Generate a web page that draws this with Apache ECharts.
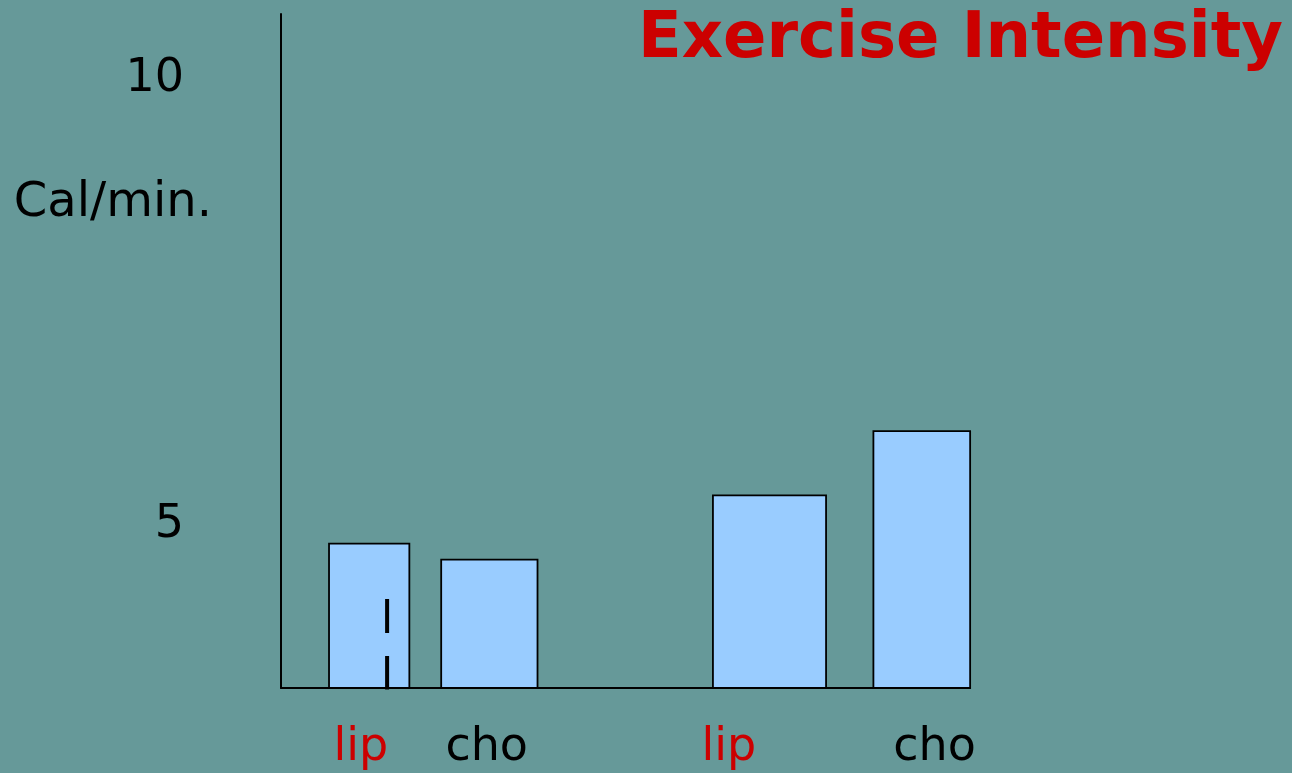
<!DOCTYPE html>
<html>
<head>
<meta charset="utf-8">
<script src="https://cdn.jsdelivr.net/npm/echarts@6/dist/echarts.min.js"></script>
<style>
  html, body { margin: 0; padding: 0; background: #669999; }
  #chart { width: 1292px; height: 773px; }
</style>
</head>
<body>
<div id="chart"></div>
<script>
// ---- data ----
const titleText = 'Exercise Intensity';
const yAxisName = 'Cal/min.';
const categories = ['lip', 'cho', '', 'lip', 'cho'];
const calPerMin = [4.73, 4.55, null, 5.27, 5.99];
const yTickValues = [5, 10];
const markerCategory = 0;
const markerValue = 4.11;

// ---- layout / style (not data) ----
const yMin = 3.111, yMax = 10.667;
const barLayout = [
  { offset: 0.140, width: 0.583 },
  { offset: 0.012, width: 0.699 },
  null,
  { offset: 0.045, width: 0.821 },
  { offset: 0.150, width: 0.702 }
];
const markerOffset = 0.27;
const labelColors = ['#CC0000', '#000000', '#000000', '#CC0000', '#000000'];
const labelShift = [[0, 0, 0, 22], [0, 2, 0, 0], [0, 0, 0, 0], [0, 69, 0, 0], [0, 0, 0, 67]];
const FONT = 'DejaVu Sans';

const barData = [];
calPerMin.forEach((v, i) => { if (v != null) barData.push([i, v]); });

const rich = {};
categories.forEach((c, i) => {
  rich['c' + i] = { color: labelColors[i], fontSize: 46, fontFamily: FONT, padding: labelShift[i] };
});

const chart = echarts.init(document.getElementById('chart'), null, { renderer: 'canvas' });
chart.setOption({
  backgroundColor: '#669999',
  animation: false,
  title: {
    text: titleText,
    right: 4,
    top: 3,
    textStyle: { color: '#CC0000', fontSize: 64, fontWeight: 'bold', fontFamily: FONT }
  },
  grid: { left: 281, right: 322, top: 14, bottom: 85, containLabel: false },
  xAxis: {
    type: 'category',
    data: categories,
    boundaryGap: true,
    axisLine: { show: true, lineStyle: { color: '#000', width: 2 } },
    axisTick: { show: false },
    splitLine: { show: false },
    axisLabel: {
      interval: 0,
      margin: 37,
      fontSize: 46,
      fontFamily: FONT,
      formatter: (value, index) => value ? '{c' + index + '|' + value + '}' : '',
      rich: rich
    }
  },
  yAxis: {
    type: 'value',
    min: yMin,
    max: yMax,
    name: yAxisName,
    nameLocation: 'end',
    nameGap: -190,
    nameTextStyle: { color: '#000', fontSize: 48, fontFamily: FONT, align: 'right', verticalAlign: 'middle', padding: [0, 69, 0, 0] },
    axisLine: { show: true, lineStyle: { color: '#000', width: 2 } },
    axisTick: { show: false },
    splitLine: { show: false },
    axisLabel: {
      customValues: yTickValues,
      margin: 97,
      color: '#000',
      fontSize: 46,
      fontFamily: FONT,
      verticalAlign: 'top',
      lineHeight: 11
    }
  },
  series: [
    {
      type: 'custom',
      name: 'Cal/min.',
      data: barData,
      clip: false,
      renderItem: function (params, api) {
        const cat = api.value(0);
        const lay = barLayout[cat];
        const band = api.size([1, 0])[0];
        const top = api.coord([cat, api.value(1)]);
        const base = api.coord([cat, yMin]);
        const w = band * lay.width;
        const cx = top[0] + band * lay.offset;
        return {
          type: 'rect',
          shape: { x: cx - w / 2, y: top[1], width: w, height: base[1] - top[1] },
          style: { fill: '#99CCFF', stroke: '#000', lineWidth: 1.8 }
        };
      }
    },
    {
      type: 'custom',
      name: 'marker',
      data: [[markerCategory, markerValue]],
      clip: false,
      z: 5,
      renderItem: function (params, api) {
        const cat = api.value(0);
        const band = api.size([1, 0])[0];
        const top = api.coord([cat, api.value(1)]);
        const base = api.coord([cat, yMin]);
        const x = top[0] + band * markerOffset;
        return {
          type: 'line',
          shape: { x1: x, y1: top[1], x2: x, y2: base[1] + 1.5 },
          style: { stroke: '#000', lineWidth: 4, lineDash: [34, 23] }
        };
      }
    }
  ]
});
</script>
</body>
</html>
